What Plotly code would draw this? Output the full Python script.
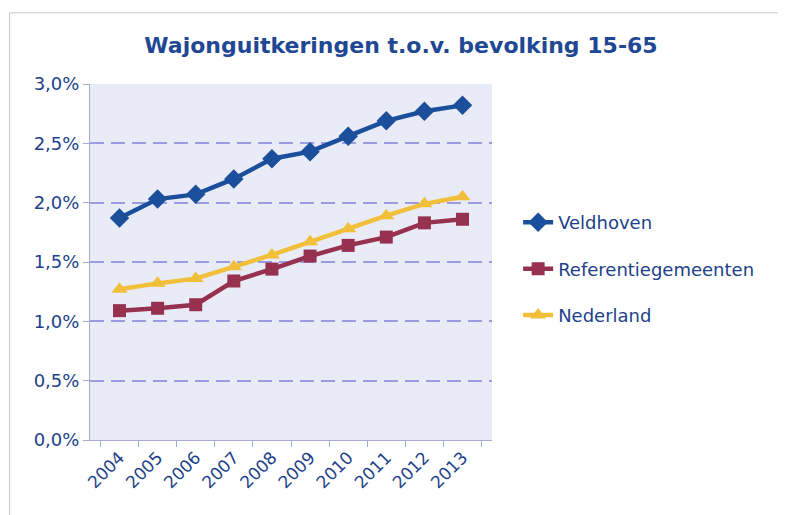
import plotly.graph_objects as go

years = ["2004", "2005", "2006", "2007", "2008", "2009", "2010", "2011", "2012", "2013"]
veldhoven = [0.0187, 0.0203, 0.0207, 0.0220, 0.0237, 0.0243, 0.0256, 0.0269, 0.0277, 0.0282]
referentie = [0.0109, 0.0111, 0.0114, 0.0134, 0.0144, 0.0155, 0.0164, 0.0171, 0.0183, 0.0186]
nederland = [0.0127, 0.0132, 0.0136, 0.0146, 0.0156, 0.0167, 0.0178, 0.0189, 0.0199, 0.0205]
yticks = [0, 0.005, 0.010, 0.015, 0.020, 0.025, 0.030]

navy = "#1d3f8a"
fontfam = "DejaVu Sans, Arial"
fig = go.Figure()
series = [
    ("Veldhoven", veldhoven, "#1b4f9c", "diamond", 15),
    ("Referentiegemeenten", referentie, "#963150", "square", 13),
    ("Nederland", nederland, "#f2bf3a", "triangle-up", 14),
]
for i, (name, vals, col, sym, sz) in enumerate(series):
    fig.add_trace(go.Scatter(
        x=years, y=vals, name=name, mode="lines+markers",
        line=dict(color=col, width=4.5),
        marker=dict(symbol=sym, size=sz, color=col),
        legendgroup=str(i),
    ))

fig.update_layout(
    width=786, height=515,
    margin=dict(l=82, r=302, t=76, b=83),
    paper_bgcolor="white",
    plot_bgcolor="#e9ebf7",
    separators=", ",
    title=dict(text="<b>Wajonguitkeringen t.o.v. bevolking 15-65</b>",
               x=0.5, xanchor="center", y=0.928, yanchor="middle",
               font=dict(family=fontfam, size=22, color="#1f4793")),
    font=dict(family=fontfam, size=16, color=navy),
    legend=dict(x=1.065, xanchor="left", y=0.48, yanchor="middle",
                font=dict(size=18, color=navy), tracegroupgap=20,
                bgcolor="rgba(0,0,0,0)"),
    showlegend=True,
)
fig.update_xaxes(
    type="category", tickangle=-45, showgrid=False,
    showline=True, linecolor="#a9a9d6", linewidth=1,
    ticks="outside", tickcolor="#a9a9d6", ticklen=6, tickson="boundaries",
    tickfont=dict(size=17, color=navy),
)
fig.update_yaxes(
    range=[0, 0.030], tickvals=yticks, tickformat=".1%",
    showgrid=True, gridcolor="#9c9ce0", griddash="14px,7px", gridwidth=1.5,
    showline=True, linecolor="#a9a9d6", linewidth=1,
    ticks="outside", tickcolor="#a9a9d6", ticklen=6,
    tickfont=dict(size=18, color=navy), zeroline=False,
)
fig.add_shape(type="rect", xref="paper", yref="paper", x0=-0.2, x1=1.75, y0=-0.25, y1=1.2,
              line=dict(color="#c8c8c8", width=1), layer="below")
fig.write_html("out.html")
